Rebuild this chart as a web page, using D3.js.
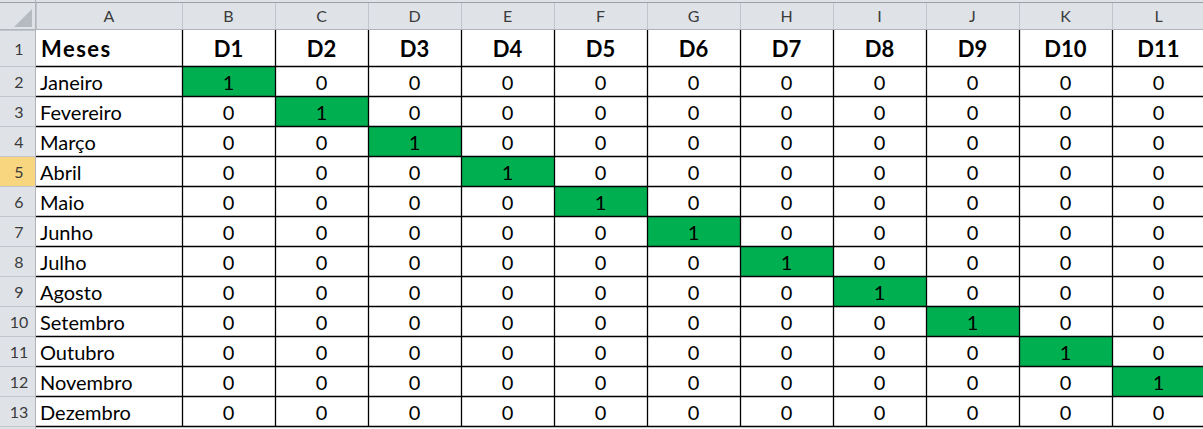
<!DOCTYPE html>
<html>
<head>
<meta charset="utf-8">
<script src="https://cdn.jsdelivr.net/npm/d3@7"></script>
<style>
  body { margin: 0; background: #fff; }
  svg { display: block; }
  text { font-family: Lato, "Open Sans", sans-serif; }
</style>
</head>
<body>
<svg id="sheet"></svg>
<script>
// spreadsheet contents
var colLetters = ["A", "B", "C", "D", "E", "F", "G", "H", "I", "J", "K", "L"];
var firstHeader = "Meses";
var dias = ["D1", "D2", "D3", "D4", "D5", "D6", "D7", "D8", "D9", "D10", "D11"];
var meses = ["Janeiro", "Fevereiro", "Março", "Abril", "Maio", "Junho", "Julho",
             "Agosto", "Setembro", "Outubro", "Novembro", "Dezembro"];
var valores = [
  [1, 0, 0, 0, 0, 0, 0, 0, 0, 0, 0],
  [0, 1, 0, 0, 0, 0, 0, 0, 0, 0, 0],
  [0, 0, 1, 0, 0, 0, 0, 0, 0, 0, 0],
  [0, 0, 0, 1, 0, 0, 0, 0, 0, 0, 0],
  [0, 0, 0, 0, 1, 0, 0, 0, 0, 0, 0],
  [0, 0, 0, 0, 0, 1, 0, 0, 0, 0, 0],
  [0, 0, 0, 0, 0, 0, 1, 0, 0, 0, 0],
  [0, 0, 0, 0, 0, 0, 0, 1, 0, 0, 0],
  [0, 0, 0, 0, 0, 0, 0, 0, 1, 0, 0],
  [0, 0, 0, 0, 0, 0, 0, 0, 0, 1, 0],
  [0, 0, 0, 0, 0, 0, 0, 0, 0, 0, 1],
  [0, 0, 0, 0, 0, 0, 0, 0, 0, 0, 0]
];
var selectedRow = 5;

function init() {
  var w = 1203, h = 429;
  var rowHeadW = 36, colAx = 36, colBx = 182, colW = 93;
  var headH = 30, row1H = 36, rowH = 30;

  var svg = d3.select("#sheet").attr("width", w).attr("height", h);

  // scales for data columns and month rows
  var x = d3.scaleBand().domain(dias).range([colBx, colBx + colW * dias.length]);
  var y = d3.scaleBand().domain(meses).range([headH + row1H, headH + row1H + rowH * meses.length]);

  // column letters header
  svg.append("rect").attr("x", 0).attr("y", 0).attr("width", w).attr("height", headH)
    .attr("fill", "#dfe3e8");
  svg.append("rect").attr("x", 0).attr("y", 0).attr("width", rowHeadW).attr("height", h)
    .attr("fill", "#dfe3e8");
  svg.append("line").attr("x1", 0).attr("x2", w).attr("y1", 2.5).attr("y2", 2.5)
    .attr("stroke", "#9c9fa4");
  // corner triangle
  svg.append("path").attr("d", "M14,27L32,9L32,27Z").attr("fill", "#b6bbc2");

  var colEdges = [colAx, colBx].concat(dias.map(function (d) { return x(d) + colW; }));
  var colCenters = [(colAx + colBx) / 2].concat(dias.map(function (d) { return x(d) + colW / 2; }));

  svg.selectAll(".colLetter").data(colLetters).enter().append("text")
    .attr("x", function (d, i) { return colCenters[i]; })
    .attr("y", 22).attr("text-anchor", "middle")
    .attr("font-size", 16).attr("fill", "#3b3b3b")
    .text(function (d) { return d; });

  svg.selectAll(".colSep").data(colEdges).enter().append("line")
    .attr("x1", function (d) { return d + 0.5; }).attr("x2", function (d) { return d + 0.5; })
    .attr("y1", 3).attr("y2", headH)
    .attr("stroke", "#c2c6cc");

  // row numbers
  var rowTops = [headH].concat(meses.map(function (m) { return y(m); }));
  var rowHs = [row1H].concat(meses.map(function () { return rowH; }));

  svg.selectAll(".rowSel").data(rowTops.filter(function (d, i) { return i + 1 === selectedRow; }))
    .enter().append("rect")
    .attr("x", 0).attr("y", function (d) { return d + 1; })
    .attr("width", rowHeadW).attr("height", rowH - 1)
    .attr("fill", "#f8d680");

  svg.selectAll(".rowNum").data(rowTops).enter().append("text")
    .attr("x", rowHeadW / 2 + 1)
    .attr("y", function (d, i) { return d + rowHs[i] / 2 + 7; })
    .attr("text-anchor", "middle").attr("font-size", 16).attr("fill", "#3b3b3b")
    .text(function (d, i) { return i + 1; });

  svg.selectAll(".rowSep").data(rowTops.concat([headH + row1H + rowH * meses.length])).enter().append("line")
    .attr("x1", 0).attr("x2", rowHeadW)
    .attr("y1", function (d) { return d + 0.5; }).attr("y2", function (d) { return d + 0.5; })
    .attr("stroke", "#c2c6cc");
  svg.append("line").attr("x1", 0).attr("x2", w).attr("y1", headH - 0.5).attr("y2", headH - 0.5)
    .attr("stroke", "#b0b4ba");
  svg.append("line").attr("x1", rowHeadW - 0.5).attr("x2", rowHeadW - 0.5).attr("y1", 0).attr("y2", h)
    .attr("stroke", "#b0b4ba");

  // green cells
  var cells = [];
  valores.forEach(function (row, r) {
    row.forEach(function (v, c) { cells.push({ mes: meses[r], dia: dias[c], v: v }); });
  });

  svg.selectAll(".cellFill").data(cells.filter(function (d) { return d.v === 1; }))
    .enter().append("rect")
    .attr("x", function (d) { return x(d.dia); })
    .attr("y", function (d) { return y(d.mes); })
    .attr("width", x.bandwidth()).attr("height", y.bandwidth())
    .attr("fill", "#00b050");

  // grid lines
  var gridTop = headH, gridBottom = headH + row1H + rowH * meses.length;
  svg.selectAll(".vGrid").data(colEdges.slice(1)).enter().append("line")
    .attr("x1", function (d) { return d + 0.5; }).attr("x2", function (d) { return d + 0.5; })
    .attr("y1", gridTop).attr("y2", gridBottom)
    .attr("stroke", "#000").attr("stroke-width", 1.3);
  svg.selectAll(".hGrid").data(rowTops.slice(1).concat([gridBottom])).enter().append("line")
    .attr("x1", colAx).attr("x2", w)
    .attr("y1", function (d) { return d + 0.5; }).attr("y2", function (d) { return d + 0.5; })
    .attr("stroke", "#000").attr("stroke-width", 1.3);

  // header row
  svg.append("text").attr("x", colAx + 5).attr("y", headH + 27)
    .attr("font-size", 22).attr("font-weight", "bold").attr("fill", "#000")
    .attr("letter-spacing", 1.5)
    .text(firstHeader);
  svg.selectAll(".dia").data(dias).enter().append("text")
    .attr("x", function (d) { return x(d) + colW / 2; })
    .attr("y", headH + 27).attr("text-anchor", "middle")
    .attr("font-size", 22).attr("font-weight", "bold").attr("fill", "#000")
    .text(function (d) { return d; });

  // month labels
  svg.selectAll(".mes").data(meses).enter().append("text")
    .attr("x", colAx + 4)
    .attr("y", function (d) { return y(d) + 24; })
    .attr("font-size", 20).attr("fill", "#000")
    .text(function (d) { return d; });

  // values
  svg.selectAll(".val").data(cells).enter().append("text")
    .attr("x", function (d) { return x(d.dia) + colW / 2; })
    .attr("y", function (d) { return y(d.mes) + 24; })
    .attr("text-anchor", "middle").attr("font-size", 20).attr("fill", "#000")
    .text(function (d) { return d.v; });
}

window.onload = init;
</script>
</body>
</html>
